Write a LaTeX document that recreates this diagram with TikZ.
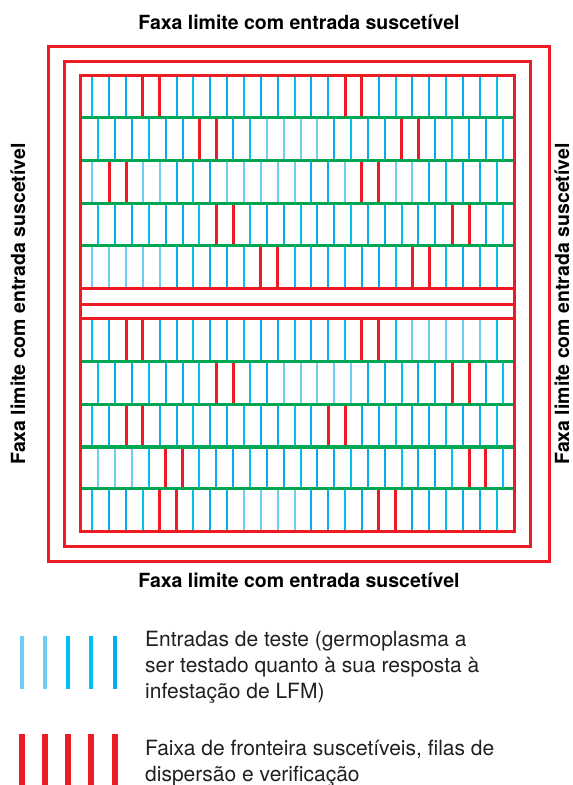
\documentclass[tikz,border=0pt]{standalone}
\usepackage{fontspec}
\setmainfont{TeX Gyre Heros}
\definecolor{lfmred}{HTML}{ED1C24}
\definecolor{lfmgreen}{HTML}{00A651}
\definecolor{lfmblue}{HTML}{00AEEF}
\definecolor{lfmcyan}{HTML}{00BFF3}
\definecolor{lfmlight}{HTML}{6DCFF6}
\definecolor{lfmtext}{HTML}{231F20}
\begin{document}
\begin{tikzpicture}[x=1pt, y=-1pt,
	frame/.style={draw=lfmred, line width=3pt},
	entry/.style={line width=2pt},
	guard/.style={draw=lfmred, line width=3pt},
	alley/.style={draw=lfmgreen, line width=3.5pt},
	title/.style={font=\fontsize{19.5}{24}\selectfont\bfseries, inner sep=0pt},
	legendtext/.style={font=\fontsize{21}{26}\selectfont, text=lfmtext, align=left, inner sep=0pt}]
	\useasboundingbox (0,0) rectangle (573,785);

	% rows of plots: number / top / first x / border rows / light entries
	\foreach \r/\ytop/\xstart/\reds/\lights in {
		1/75/92.3/{3,4,15,16}/{99},
		2/117.7/98.3/{6,7,18,19}/{10,11,12,13},
		3/160.7/92.3/{1,2,16,17}/{0,3,4,8,9,10,11,12,15,18,19},
		4/203.7/98.3/{7,8,21,22}/{99},
		5/245.7/92.3/{10,11,19,20}/{0,1,2,3,4},
		6/318.7/92.3/{2,3,16,17}/{19,20,21,22,23},
		7/361.7/98.3/{7,8,21,22}/{11,12,13,14,15},
		8/404.3/92.3/{2,3,14,15}/{99},
		9/447/98.3/{4,5,22,23}/{0,1,2},
		10/488.7/92.3/{4,5,17,18}/{9,10,11,12}}
	{
		\foreach \i in {0,...,24}{
			\pgfmathtruncatemacro\shade{mod(\i*7+\r*3,3)}
			\ifnum\shade=0 \def\col{lfmcyan}\else \def\col{lfmblue}\fi
			\draw[entry, draw=\col] (\xstart+16.85*\i, \ytop) -- ++(0,43);
		}
		\foreach \i in \lights {
			\ifnum\i<25 \draw[entry, draw=lfmlight] (\xstart+16.85*\i, \ytop) -- ++(0,43); \fi
		}
		\foreach \i in \reds
			\draw[guard] (\xstart+16.85*\i, \ytop) -- ++(0,43);
	}

	% alleys and middle border rows
	\foreach \y in {117.7,160.7,203.7,245.7,361.7,404.3,447,488.7}
		\draw[alley] (81,\y) -- (514,\y);
	\foreach \y in {288.7,304,318.7}
		\draw[frame] (81,\y) -- (514,\y);

	% border strips
	\draw[frame] (80.8,75.5) rectangle (514,531.7);
	\draw[frame] (64.7,61) rectangle (530,546.8);
	\draw[frame] (48.3,46.3) rectangle (549.5,561.3);

	\node[title, anchor=base] (topstrip) at (299,29) {Faxa limite com entrada suscetível};
	\node[title, anchor=base] (bottomstrip) at (299,587) {Faxa limite com entrada suscetível};
	\node[title, anchor=base, rotate=90] (leftstrip) at (25,304) {Faxa limite com entrada suscetível};
	\node[title, anchor=base, rotate=90] (rightstrip) at (569,304) {Faxa limite com entrada suscetível};

	% legend
	\foreach \x/\c in {22/lfmlight,45/lfmlight,68/lfmcyan,91/lfmcyan,115/lfmblue}
		\draw[line width=4pt, draw=\c] (\x,636) -- (\x,689);
	\foreach \x in {22,45,68,91,115}
		\draw[lfmred, line width=6pt] (\x,734) -- (\x,786);
	\node[legendtext, anchor=base west] (testkey) at (145,698.5)
		{Entradas de teste (germoplasma a\\ser testado quanto à sua resposta à\\infestação de LFM)};
	\node[legendtext, anchor=base west] (borderkey) at (145,781)
		{Faixa de fronteira suscetíveis, filas de\\dispersão e verificação};
\end{tikzpicture}
\end{document}
